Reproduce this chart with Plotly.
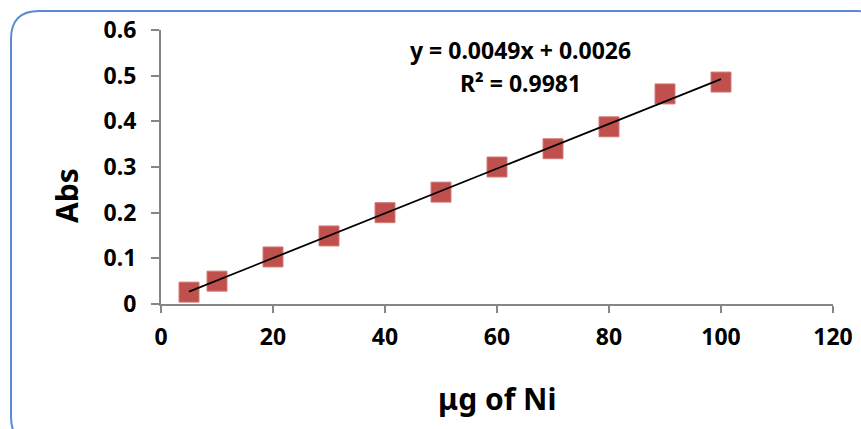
import plotly.graph_objects as go

# ---- data ----
ug_ni = [5, 10, 20, 30, 40, 50, 60, 70, 80, 90, 100]
absorbance = [0.026, 0.050, 0.103, 0.149, 0.200, 0.245, 0.300, 0.340, 0.388, 0.460, 0.486]
slope = 0.0049
intercept = 0.0026
r_squared = 0.9981
x_ticks = [0, 20, 40, 60, 80, 100, 120]
y_ticks = [0, 0.1, 0.2, 0.3, 0.4, 0.5, 0.6]

W, H = 861, 429
L, R, T, B = 161, 28, 30, 125
PW, PH = W - L - R, H - T - B

def px(xp):
    return (xp - L) / PW

def py(yp):
    return (H - B - yp) / PH

trend_x = [min(ug_ni), max(ug_ni)]
trend_y = [slope * v + intercept for v in trend_x]

fig = go.Figure()
fig.add_trace(go.Scatter(
    x=ug_ni, y=absorbance, mode="markers",
    marker=dict(symbol="square", size=20, color="#C0504D",
                line=dict(color="#D27B78", width=1)),
    showlegend=False, hoverinfo="skip"))
fig.add_trace(go.Scatter(
    x=trend_x, y=trend_y, mode="lines",
    line=dict(color="black", width=1.8),
    showlegend=False, hoverinfo="skip"))

font_family = "Noto Sans"

# rounded border (extends beyond the image at right/bottom)
x0, y0, x1, y1, r = 11, 11, 885, 445, 28
path = (f"M {px(x0 + r)} {py(y0)} L {px(x1 - r)} {py(y0)} "
        f"Q {px(x1)} {py(y0)} {px(x1)} {py(y0 + r)} "
        f"L {px(x1)} {py(y1 - r)} Q {px(x1)} {py(y1)} {px(x1 - r)} {py(y1)} "
        f"L {px(x0 + r)} {py(y1)} Q {px(x0)} {py(y1)} {px(x0)} {py(y1 - r)} "
        f"L {px(x0)} {py(y0 + r)} Q {px(x0)} {py(y0)} {px(x0 + r)} {py(y0)} Z")
fig.add_shape(type="path", path=path, xref="paper", yref="paper",
              line=dict(color="#5B8BCF", width=2), fillcolor="rgba(0,0,0,0)",
              layer="below")

def note(text, xp, yp, size, angle=0):
    fig.add_annotation(
        x=px(xp), y=py(yp), xref="paper", yref="paper", showarrow=False,
        xanchor="center", yanchor="middle", textangle=angle,
        text=f"<b>{text}</b>",
        font=dict(family=font_family, size=size, color="black"))

note(f"y = {slope}x + {intercept}", 520, 50, 23)
note(f"R² = {r_squared}", 520, 83, 23)
note("Abs", 66, 196, 30, -90)
note("μg of Ni", 497, 398, 30)

axis_common = dict(showgrid=False, zeroline=False, showline=True,
                   linecolor="#868686", linewidth=2, ticks="outside",
                   tickcolor="#868686", tickwidth=2, automargin=False,
                   tickfont=dict(family=font_family, size=23, color="black", weight="bold"))

fig.update_layout(
    width=W, height=H,
    margin=dict(l=L, r=R, t=T, b=B),
    paper_bgcolor="white", plot_bgcolor="white",
    xaxis=dict(range=[0, 120], tickvals=x_ticks, ticklen=7,
               ticklabelstandoff=4, **axis_common),
    yaxis=dict(range=[0, 0.6], tickvals=y_ticks, ticklen=8,
               ticktext=[f"{v:g}" for v in y_ticks],
               ticklabelstandoff=10, **axis_common),
)

fig.write_html("out.html")
